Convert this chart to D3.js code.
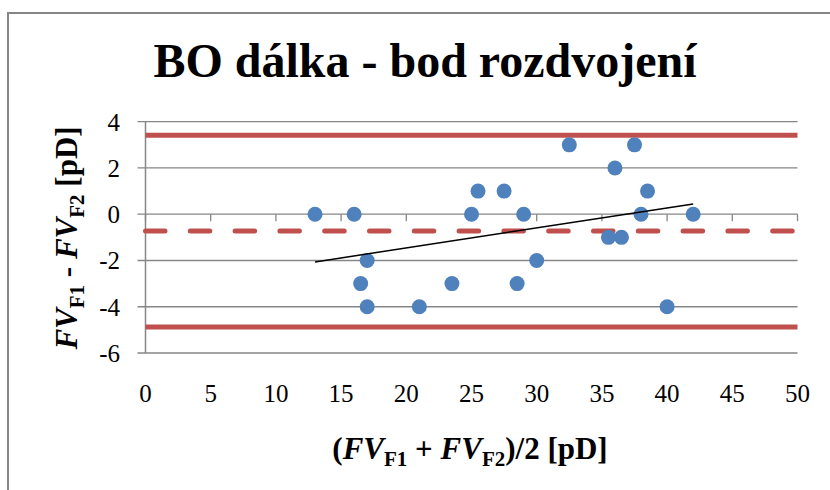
<!DOCTYPE html>
<html>
<head>
<meta charset="utf-8">
<script src="https://cdn.jsdelivr.net/npm/d3@7"></script>
<style>
  body { margin: 0; background: #fff; }
</style>
</head>
<body>
<div class="bland_altman"></div>
<script>
// mean of the two measurements (x) and their difference (y), one entry per eye
const averages = [13, 16, 16.5, 17, 17, 21, 23.5, 25, 25.5, 27.5, 28.5, 29, 30, 32.5, 35.5, 36, 36.5, 37.5, 38, 38.5, 40, 42]
const differences = [0, 0, -3, -2, -4, -4, -3, 0, 1, 1, -3, 0, -2, 3, -1, 2, -1, 3, 0, 1, -4, 0]
const xTicks = [0, 5, 10, 15, 20, 25, 30, 35, 40, 45, 50]
const yTicks = [-6, -4, -2, 0, 2, 4]

const width = 830
const height = 490
const grid = '#868686'
const red = '#C0504D'
const blue = '#4F81BD'

const points = averages.map((a, i) => ({ x: a, y: differences[i] }))

// bias and limits of agreement (1.96 * population SD)
const bias = d3.mean(differences)
const sd = Math.sqrt(d3.mean(differences, (d) => (d - bias) * (d - bias)))
const upper = bias + 1.96 * sd
const lower = bias - 1.96 * sd

// least squares trend over the measured range
const mx = d3.mean(averages)
const slope = d3.sum(points, (p) => (p.x - mx) * (p.y - bias)) / d3.sum(points, (p) => (p.x - mx) * (p.x - mx))
const trend = d3.extent(averages).map((x) => ({ x: x, y: bias + slope * (x - mx) }))

const x = d3.scaleLinear().domain([0, 50]).range([145.5, 797.5])
const y = d3.scaleLinear().domain([-6, 4]).range([353, 121.7])

const svg = d3.select('.bland_altman').append('svg')
  .attr('width', width)
  .attr('height', height)
  .attr('font-family', "'Liberation Serif', 'Times New Roman', 'DejaVu Serif', serif")
  .style('display', 'block')

// chart frame (cropped at right and bottom)
svg.append('path')
  .attr('d', 'M8,' + height + 'V13H' + width)
  .attr('fill', 'none')
  .attr('stroke', grid)
  .attr('stroke-width', 2)

svg.append('text')
  .attr('x', 425)
  .attr('y', 77)
  .attr('text-anchor', 'middle')
  .attr('font-size', 48)
  .attr('font-weight', 'bold')
  .text('BO dálka - bod rozdvojení')

// horizontal gridlines
svg.append('g')
  .selectAll('line')
  .data(yTicks)
  .enter().append('line')
  .attr('x1', x(0) - 8)
  .attr('x2', x(50))
  .attr('y1', (d) => y(d))
  .attr('y2', (d) => y(d))
  .attr('stroke', grid)
  .attr('stroke-width', 1.3)

// vertical axis line
svg.append('line')
  .attr('x1', x(0)).attr('x2', x(0))
  .attr('y1', y(4)).attr('y2', y(-6))
  .attr('stroke', grid)
  .attr('stroke-width', 1.5)

// x ticks hang from the zero line
svg.append('g')
  .selectAll('line')
  .data(xTicks)
  .enter().append('line')
  .attr('x1', (d) => x(d))
  .attr('x2', (d) => x(d))
  .attr('y1', y(0))
  .attr('y2', y(0) + 7)
  .attr('stroke', grid)
  .attr('stroke-width', 1.3)

svg.append('g')
  .selectAll('text')
  .data(yTicks)
  .enter().append('text')
  .attr('x', 120)
  .attr('y', (d) => y(d) + 9)
  .attr('text-anchor', 'end')
  .attr('font-size', 25)
  .text((d) => d)

svg.append('g')
  .selectAll('text')
  .data(xTicks)
  .enter().append('text')
  .attr('x', (d) => x(d))
  .attr('y', 402)
  .attr('text-anchor', 'middle')
  .attr('font-size', 25)
  .text((d) => d)

// limits of agreement and bias
const limits = [
  { v: upper, dash: null },
  { v: lower, dash: null },
  { v: bias, dash: '19.5,25.3' }
]
svg.append('g')
  .selectAll('line')
  .data(limits)
  .enter().append('line')
  .attr('x1', x(0))
  .attr('x2', x(50))
  .attr('y1', (d) => y(d.v))
  .attr('y2', (d) => y(d.v))
  .attr('stroke', red)
  .attr('stroke-width', 5)
  .attr('stroke-linecap', (d) => d.dash ? 'round' : 'butt')
  .attr('stroke-dasharray', (d) => d.dash)

svg.append('g')
  .selectAll('circle')
  .data(points)
  .enter().append('circle')
  .attr('cx', (d) => x(d.x))
  .attr('cy', (d) => y(d.y))
  .attr('r', 7.5)
  .attr('fill', blue)

svg.append('path')
  .datum(trend)
  .attr('d', d3.line().x((d) => x(d.x)).y((d) => y(d.y)))
  .attr('stroke', '#000')
  .attr('stroke-width', 1.5)
  .attr('fill', 'none')

// axis titles with subscripts
const title = (g, parts) => {
  const t = g.append('text')
    .attr('font-weight', 'bold')
    .attr('font-size', 31)
  parts.forEach((p) => {
    const s = t.append('tspan').text(p.t)
    if (p.i) s.attr('font-style', 'italic')
    if (p.sub) s.attr('font-size', 21).attr('dy', 7)
    if (p.back) s.attr('dy', -7)
  })
  return t
}

title(svg.append('g').attr('transform', 'translate(470,459)'), [
  { t: '(' },
  { t: 'FV', i: true },
  { t: 'F1', sub: true },
  { t: ' + ', back: true },
  { t: 'FV', i: true },
  { t: 'F2', sub: true },
  { t: ')/2 [pD]', back: true }
]).attr('text-anchor', 'middle')

title(svg.append('g').attr('transform', 'translate(77,238) rotate(-90)'), [
  { t: 'FV', i: true },
  { t: 'F1', sub: true },
  { t: ' - ', back: true },
  { t: 'FV', i: true },
  { t: 'F2', sub: true },
  { t: ' [pD]', back: true }
]).attr('text-anchor', 'middle')
</script>
</body>
</html>
